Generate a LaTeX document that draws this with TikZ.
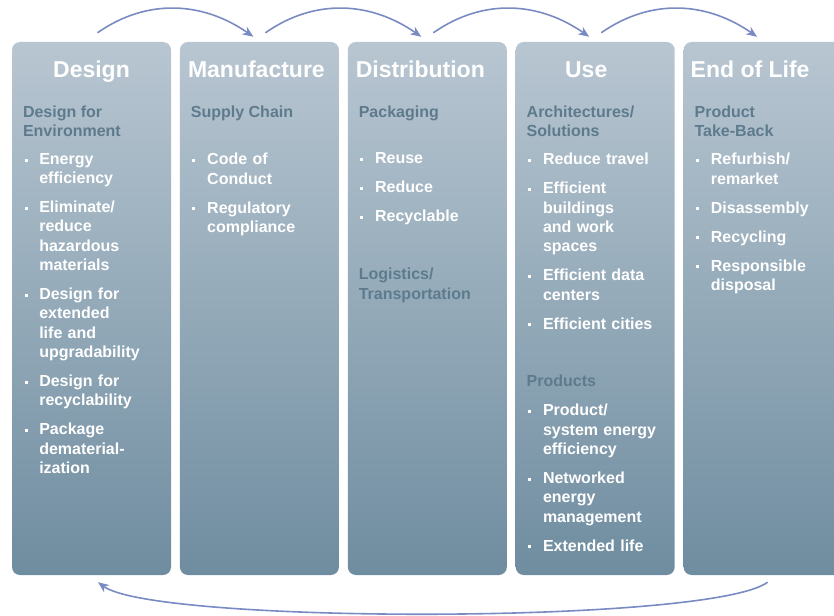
\documentclass[tikz,border=0pt]{standalone}
\usepackage{fontspec}
\setmainfont{Liberation Sans}
\usetikzlibrary{arrows.meta,positioning}

\definecolor{colTop}{HTML}{B8C6D1}
\definecolor{colBot}{HTML}{6F8DA0}
\definecolor{subText}{HTML}{5E7B8E}
\definecolor{arrBlue}{HTML}{7A8BC4}

% bullet item with hanging indent
\newcommand{\bitem}[1]{\hangindent=16.3pt\hangafter=1\noindent\makebox[16.3pt][l]{\hspace{1.5pt}\raisebox{2.8pt}{\rule{3pt}{3pt}}}#1\par}

\begin{document}
\begin{tikzpicture}[
		x=1pt,y=1pt,
		col/.style={rounded corners=8pt,minimum width=159pt,minimum height=533pt,inner sep=0pt,top color=colTop,bottom color=colBot},
		ttl/.style={anchor=base,text=white,font=\fontsize{23}{27}\selectfont\bfseries,inner sep=0pt},
		sub/.style={align=left,text=subText,font=\fontsize{16}{19.3}\selectfont\bfseries,inner sep=0pt},
		lst/.style={text width=150pt,align=left,text=white,font=\fontsize{16}{19.3}\selectfont\bfseries,inner sep=0pt,execute at begin node={\setlength{\parskip}{9.7pt}}},
		arr/.style={-{Stealth[length=11pt,width=9pt]},draw=arrBlue,line width=1.6pt}
		]
		
		\useasboundingbox (0,0) rectangle (834,-615);
		
		% --- The five life-cycle columns
		\node[col] (design) at (91.5,-308.5) {};
		\node[col,right=8.5pt of design] (manufacture) {};
		\node[col,right=8.5pt of manufacture] (distribution) {};
		\node[col,right=8.5pt of distribution] (use) {};
		\node[col,right=8.5pt of use] (endoflife) {};
		
		\node[ttl] at ([yshift=-35.3pt]design.north) {Design};
		\node[ttl] at ([shift={(-3,-35.3)}]manufacture.north) {Manufacture};
		\node[ttl] at ([shift={(-7,-35.3)}]distribution.north) {Distribution};
		\node[ttl] at ([shift={(-9,-35.3)}]use.north) {Use};
		\node[ttl] at ([shift={(-13,-35.3)}]endoflife.north) {End of Life};
		
		% --- Design
		\node[sub,below right=63.6pt and 11pt of design.north west] {Design for\\Environment};
		\node[lst,below right=111.3pt and 11pt of design.north west] {%
			\bitem{Energy\newline efficiency}
			\bitem{Eliminate/\newline reduce\newline hazardous\newline materials}
			\bitem{Design for\newline extended\newline life and\newline upgradability}
			\bitem{Design for\newline recyclability}
			\bitem{Package\newline dematerial-\newline ization}};
		
		% --- Manufacture
		\node[sub,below right=63.6pt and 11pt of manufacture.north west] {Supply Chain};
		\node[lst,below right=111.3pt and 11pt of manufacture.north west] {%
			\bitem{Code of\newline Conduct}
			\bitem{Regulatory\newline compliance}};
		
		% --- Distribution
		\node[sub,below right=63.6pt and 11pt of distribution.north west] {Packaging};
		\node[lst,below right=110.5pt and 11pt of distribution.north west] {%
			\bitem{Reuse}
			\bitem{Reduce}
			\bitem{Recyclable}};
		\node[sub,below right=226.3pt and 11pt of distribution.north west] {Logistics/\\Transportation};
		
		% --- Use
		\node[sub,below right=63.6pt and 11pt of use.north west] {Architectures/\\Solutions};
		\node[lst,below right=111.3pt and 11pt of use.north west] {%
			\bitem{Reduce travel}
			\bitem{Efficient\newline buildings\newline and work\newline spaces}
			\bitem{Efficient data\newline centers}
			\bitem{Efficient cities}};
		\node[sub,below right=333.3pt and 11pt of use.north west] {Products};
		\node[lst,below right=362.3pt and 11pt of use.north west] {%
			\bitem{Product/\newline system energy\newline efficiency}
			\bitem{Networked\newline energy\newline management}
			\bitem{Extended life}};
		
		% --- End of Life
		\node[sub,below right=63.6pt and 11pt of endoflife.north west] {Product\\Take-Back};
		\node[lst,below right=111.3pt and 11pt of endoflife.north west] {%
			\bitem{Refurbish/\newline remarket}
			\bitem{Disassembly}
			\bitem{Recycling}
			\bitem{Responsible\newline disposal}};
		
		% --- Arrows from stage to stage
		\foreach \a/\b in {design/manufacture,manufacture/distribution,distribution/use,use/endoflife}
		\draw[arr] ([shift={(6,9)}]\a.north) to[out=35,in=145] ([shift={(-6,5)}]\b.north);
		
		% --- Closing the loop
		\draw[arr] ([shift={(4.5,-7)}]endoflife.south)
		.. controls ([shift={(-52,-49)}]endoflife.south) and ([shift={(63,-49)}]design.south) .. ([shift={(6.5,-7)}]design.south);
		
	\end{tikzpicture}
\end{document}
